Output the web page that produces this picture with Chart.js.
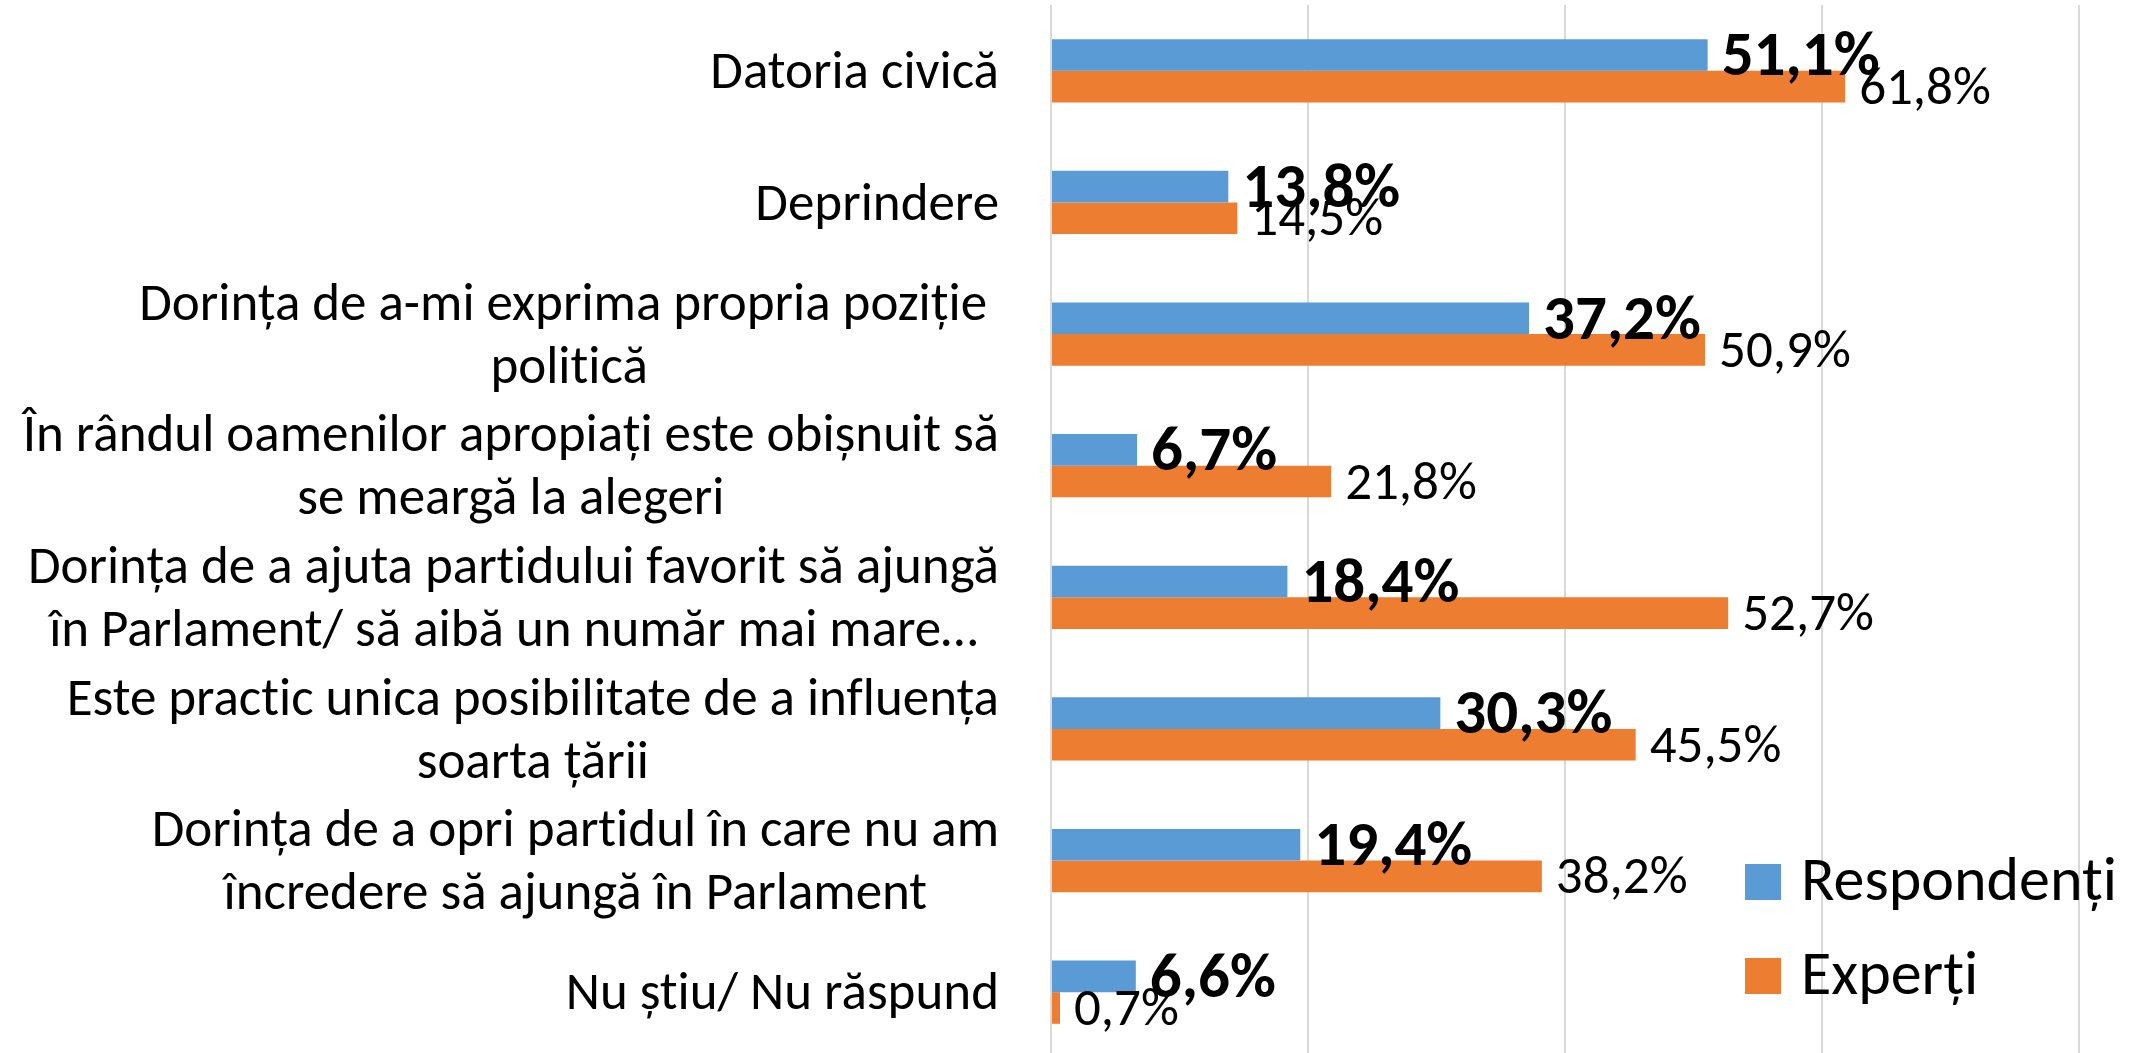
<!DOCTYPE html>
<html>
<head>
<meta charset="utf-8">
<script src="https://cdn.jsdelivr.net/npm/chart.js@4.4.0/dist/chart.umd.min.js"></script>
<style>
  html, body { margin: 0; padding: 0; background: #fff; overflow: hidden; }
  #wrap { width: 2145px; height: 1053px; overflow: hidden; }
</style>
</head>
<body>
<div id="wrap"><canvas id="chart" width="2340" height="1058"></canvas></div>
<script>
// Categories (each entry = lines of the label)
const categories = [
  ['Datoria civică'],
  ['Deprindere'],
  ['Dorința de a-mi exprima propria poziție ', 'politică'],
  ['În rândul oamenilor apropiați este obișnuit să', 'se meargă la alegeri'],
  ['Dorința de a ajuta partidului favorit să ajungă', 'în Parlament/ să aibă un număr mai mare…'],
  ['Este practic unica posibilitate de a influența', 'soarta țării'],
  ['Dorința de a opri partidul în care nu am', 'încredere să ajungă în Parlament'],
  ['Nu știu/ Nu răspund']
];

const seriesNames = ['Respondenți', 'Experți'];
const respondenti = [51.1, 13.8, 37.2, 6.7, 18.4, 30.3, 19.4, 6.6];
const experti = [61.8, 14.5, 50.9, 21.8, 52.7, 45.5, 38.2, 0.7];

// x axis: 0..100 step 20 (tick labels are cut off in the original)
const xTicks = [0, 20, 40, 60, 80, 100];

const BLUE = '#5B9BD5';
const ORANGE = '#ED7D31';
const FONT = "Carlito, Calibri, 'Open Sans', sans-serif";

const fmt = v => v.toFixed(1).replace('.', ',') + '%';

// break "ti"/"ct" ligatures with zero-width non-joiners (original has none)
const plain = s => Array.from(s).join('\u200C');

// Category labels: each block centred on itself, block right-aligned to the axis
const categoryLabels = {
  id: 'categoryLabels',
  afterDraw(chart) {
    const { ctx } = chart;
    const y = chart.scales.y;
    const size = 53, lineH = 63;
    const right = chart.chartArea.left - 52;
    ctx.save();
    ctx.font = `${size}px ${FONT}`;
    ctx.fillStyle = '#000';
    ctx.textAlign = 'center';
    ctx.textBaseline = 'alphabetic';
    chart.data.labels.forEach((lines, i) => {
      const cy = y.getPixelForValue(i);
      const w = Math.max(...lines.map(l => ctx.measureText(plain(l)).width));
      const cx = right - w / 2;
      lines.forEach((line, j) => {
        const ly = cy + (j - (lines.length - 1) / 2) * lineH + size * 0.644 / 2;
        ctx.fillText(plain(line), cx, ly);
      });
    });
    ctx.restore();
  }
};

// Value labels at bar ends
const valueLabels = {
  id: 'valueLabels',
  afterDatasetsDraw(chart) {
    const { ctx } = chart;
    ctx.save();
    ctx.fillStyle = '#000';
    ctx.textAlign = 'left';
    ctx.textBaseline = 'alphabetic';
    chart.data.datasets.forEach((ds, di) => {
      const size = di === 0 ? 63 : 53;
      ctx.font = `${di === 0 ? 'bold ' : ''}${size}px ${FONT}`;
      chart.getDatasetMeta(di).data.forEach((bar, i) => {
        ctx.fillText(fmt(ds.data[i]), bar.x + 14, bar.y + size * 0.644 / 2);
      });
    });
    ctx.restore();
  }
};

// Legend drawn inside the plot, lower right
const innerLegend = {
  id: 'innerLegend',
  afterDraw(chart) {
    const { ctx, chartArea } = chart;
    const size = 62, box = 36;
    const x = chartArea.left + 694;
    ctx.save();
    ctx.font = `${size}px ${FONT}`;
    ctx.textBaseline = 'alphabetic';
    ctx.textAlign = 'left';
    chart.data.datasets.forEach((ds, i) => {
      const cy = chartArea.bottom - 176 + i * 94;
      ctx.fillStyle = ds.backgroundColor;
      ctx.fillRect(x, cy - box / 2, box, box);
      ctx.fillStyle = '#000';
      ctx.fillText(plain(ds.label), x + box + 20, cy + box / 2);
    });
    ctx.restore();
  }
};

new Chart(document.getElementById('chart'), {
  type: 'bar',
  data: {
    labels: categories,
    datasets: [
      { label: seriesNames[0], data: respondenti, backgroundColor: BLUE },
      { label: seriesNames[1], data: experti, backgroundColor: ORANGE }
    ]
  },
  options: {
    indexAxis: 'y',
    responsive: false,
    animation: false,
    devicePixelRatio: 1,
    layout: { padding: { top: 5, right: 4, bottom: 0, left: 0 } },
    datasets: { bar: { categoryPercentage: 0.48, barPercentage: 1.0 } },
    plugins: {
      legend: { display: false },
      tooltip: { enabled: false }
    },
    scales: {
      x: {
        min: xTicks[0],
        max: xTicks[xTicks.length - 1],
        afterBuildTicks: scale => { scale.ticks = xTicks.map(v => ({ value: v })); },
        grid: { color: '#d9d9d9', lineWidth: 2, drawTicks: false },
        border: { display: false },
        ticks: { display: false }
      },
      y: {
        grid: { display: false },
        border: { display: false },
        ticks: { display: false },
        afterFit: scale => { scale.width = 1051; }
      }
    }
  },
  plugins: [categoryLabels, valueLabels, innerLegend]
});
</script>
</body>
</html>
